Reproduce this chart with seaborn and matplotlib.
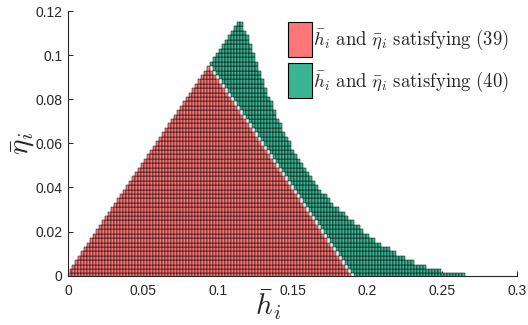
import matplotlib
matplotlib.use("Agg")
import matplotlib.pyplot as plt
from matplotlib.patches import Patch
from matplotlib.path import Path
import pandas as pd
import seaborn as sns

# grid spacing of the (h, eta) search, same in both directions
passo = 0.002

# region satisfying (39): one entry per column (h index 0..94), top eta index
red_primeira_coluna = 0
red_topo = [0, 1, 2, 3, 4, 5, 6, 7, 8, 9, 10, 11, 12, 13, 14, 15, 16, 17, 18, 19,
            20, 21, 22, 23, 24, 25, 26, 27, 28, 29, 30, 31, 32, 33, 34, 35, 36, 37, 38, 39,
            40, 41, 42, 43, 44, 45, 46, 47, 46, 45, 44, 43, 42, 41, 40, 39, 38, 37, 36, 35,
            34, 33, 32, 31, 30, 29, 28, 27, 26, 25, 24, 23, 22, 21, 20, 19, 18, 17, 16, 15,
            14, 13, 12, 11, 10, 9, 8, 7, 6, 5, 4, 3, 2, 1, 0]
red_base = [0] * len(red_topo)

# region satisfying (40): columns h index 48..132, bottom and top eta index
green_primeira_coluna = 48
green_base = [48, 47, 46, 45, 44, 43, 42, 41, 40, 39, 38, 37, 36, 35, 34, 33, 32, 31, 30, 29,
              28, 27, 26, 25, 24, 23, 22, 21, 20, 19, 18, 17, 16, 15, 14, 13, 12, 11, 10, 9,
              8, 7, 6, 5, 4, 3, 2, 1, 0, 0, 0, 0, 0, 0, 0, 0, 0, 0, 0, 0,
              0, 0, 0, 0, 0, 0, 0, 0, 0, 0, 0, 0, 0, 0, 0, 0, 0, 0, 0, 0,
              0, 0, 0, 0, 0]
green_topo = [48, 49, 50, 51, 52, 53, 54, 55, 56, 57, 57, 55, 54, 52, 50, 48, 46, 44, 42, 40,
              39, 37, 35, 34, 32, 31, 30, 28, 27, 26, 25, 24, 23, 22, 21, 20, 19, 18, 18, 17,
              16, 15, 15, 14, 14, 13, 12, 12, 11, 11, 10, 9, 9, 8, 8, 7, 7, 6, 6, 6,
              5, 5, 4, 4, 4, 3, 3, 3, 2, 2, 2, 2, 1, 1, 1, 1, 1, 0, 0, 0,
              0, 0, 0, 0, 0]

rotulos = [r"$\bar{h}_i\ \mathrm{and}\ \bar{\eta}_i\ \mathrm{satisfying\ (39)}$",
           r"$\bar{h}_i\ \mathrm{and}\ \bar{\eta}_i\ \mathrm{satisfying\ (40)}$"]
cores = ["#FF7676", "#38B593"]

x_ticks = [0, 0.05, 0.1, 0.15, 0.2, 0.25, 0.3]
x_rotulos = ["0", "0.05", "0.1", "0.15", "0.2", "0.25", "0.3"]
y_ticks = [0, 0.02, 0.04, 0.06, 0.08, 0.1, 0.12]
y_rotulos = ["0", "0.02", "0.04", "0.06", "0.08", "0.1", "0.12"]


def expandir(primeira, bases, topos, nome):
    linhas = []
    for k, (b, t) in enumerate(zip(bases, topos)):
        for j in range(b, t + 1):
            linhas.append(((primeira + k) * passo, j * passo, nome))
    return linhas


linhas = expandir(red_primeira_coluna, red_base, red_topo, rotulos[0])
linhas += expandir(green_primeira_coluna, green_base, green_topo, rotulos[1])
df = pd.DataFrame(linhas, columns=["h", "eta", "regiao"])

sns.set_theme(style="ticks")
plt.rcParams["font.family"] = ["Liberation Sans", "DejaVu Sans"]
plt.rcParams["mathtext.fontset"] = "cm"

fig, ax = plt.subplots(figsize=(5.28, 3.25), dpi=100)
fig.subplots_adjust(left=0.1288, right=0.979, bottom=0.152, top=0.966)

celula = Path([(-0.34, -0.5), (0.34, -0.5), (0.34, 0.5), (-0.34, 0.5), (-0.34, -0.5)], closed=True)
sns.scatterplot(data=df, x="h", y="eta", hue="regiao", palette=dict(zip(rotulos, cores)),
                marker=celula, s=10, edgecolor="black", linewidth=0.35, legend=False, ax=ax)

ax.set_xlim(0, 0.3)
ax.set_ylim(0, 0.12)
ax.set_xticks(x_ticks)
ax.set_xticklabels(x_rotulos)
ax.set_yticks(y_ticks)
ax.set_yticklabels(y_rotulos)
ax.tick_params(direction="in", length=3.5, width=0.7, labelsize=10, colors="#262626")
ax.tick_params(axis="x", pad=6)
ax.tick_params(axis="y", pad=4)
sns.despine(ax=ax)
for lado in ["left", "bottom"]:
    ax.spines[lado].set_color("#262626")
    ax.spines[lado].set_linewidth(0.8)

ax.set_xlabel(r"$\bar{h}_i$", fontsize=21)
ax.set_ylabel(r"$\bar{\eta}_i$", fontsize=21)
ax.xaxis.set_label_coords(0.445, -0.046)
ax.yaxis.set_label_coords(-0.068, 0.5)

handles = [Patch(facecolor=c, edgecolor="black", linewidth=0.8) for c in cores]
ax.legend(handles, rotulos, loc="upper left", bbox_to_anchor=(0.49, 0.958), frameon=False,
          borderpad=0, borderaxespad=0, handlelength=1.28, handleheight=2.5,
          handletextpad=0.08, labelspacing=0.33, fontsize=13.5)

plt.savefig("out.png", dpi=100)
plt.close()
